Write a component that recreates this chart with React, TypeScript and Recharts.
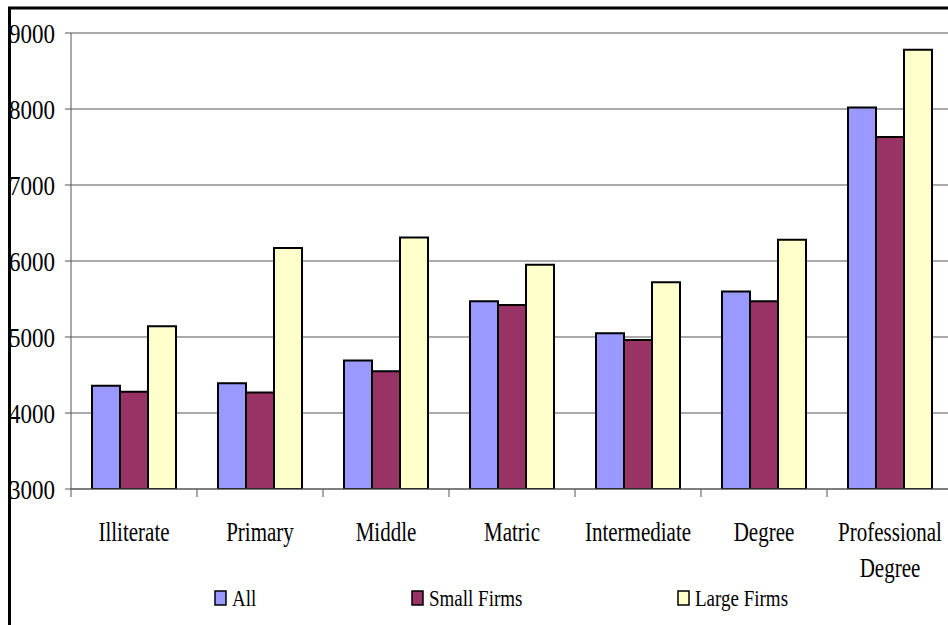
import React from 'react';
import { BarChart, Bar, XAxis, YAxis, CartesianGrid } from 'recharts';

const categories = ['Illiterate', 'Primary', 'Middle', 'Matric', 'Intermediate', 'Degree', 'Professional Degree'];
const allValues = [4360, 4390, 4690, 5470, 5050, 5600, 8020];
const smallFirms = [4280, 4270, 4550, 5420, 4960, 5470, 7630];
const largeFirms = [5140, 6170, 6310, 5950, 5720, 6280, 8780];
const yTicks = [3000, 4000, 5000, 6000, 7000, 8000, 9000];

const seriesNames = ['All', 'Small Firms', 'Large Firms'];
const COLORS = ['#9999FF', '#993366', '#FFFFCC'];

const FONT = '"Liberation Serif", "Times New Roman", serif';

const data = categories.map((name, i) => ({
  name,
  all: allValues[i],
  small: smallFirms[i],
  large: largeFirms[i],
}));

const CategoryTick = (props: any) => {
  const { x, y, payload } = props;
  const half = payload && payload.offset ? payload.offset : 63;
  const lines = String(payload.value).split(' ');
  return (
    <g>
      <line x1={x - half} x2={x - half} y1={y} y2={y + 8} stroke="#555" />
      <text
        transform={`translate(${x},${y + 52}) scale(1,1.3)`}
        textAnchor="middle"
        fontSize={21}
        fontFamily={FONT}
        fill="#000"
      >
        {lines.map((l, i) => (
          <tspan key={i} x={0} dy={i === 0 ? 0 : 28}>{l}</tspan>
        ))}
      </text>
    </g>
  );
};

const ValueTick = (props: any) => {
  const { x, y, payload } = props;
  return (
    <text
      transform={`translate(${x},${y + 10}) scale(1,1.2)`}
      textAnchor="end"
      fontSize={23}
      fontFamily={FONT}
      fill="#000"
    >
      {payload.value}
    </text>
  );
};

// legend marker x positions
const legendX = [215, 412, 678];

export default function App() {
  return (
    <div style={{ position: 'absolute', left: 0, top: 0, width: 948, height: 625, overflow: 'hidden', background: '#fff' }}>
      <BarChart
        width={960}
        height={625}
        data={data}
        margin={{ top: 33, right: 7, left: 0, bottom: 36 }}
        barGap={0}
        barCategoryGap={21}
      >
        <CartesianGrid vertical={false} stroke="#555" />
        <XAxis
          dataKey="name"
          height={100}
          interval={0}
          tickSize={0}
          tickMargin={0}
          tickLine={false}
          axisLine={{ stroke: '#555' }}
          tick={<CategoryTick />}
        />
        <YAxis
          width={71}
          domain={[3000, 9000]}
          ticks={yTicks}
          allowDataOverflow
          tickSize={6}
          tickMargin={10}
          axisLine={{ stroke: '#555' }}
          tickLine={{ stroke: '#555' }}
          tick={<ValueTick />}
        />
        <Bar dataKey="all" name={seriesNames[0]} fill={COLORS[0]} stroke="#000" strokeWidth={2} isAnimationActive={false} />
        <Bar dataKey="small" name={seriesNames[1]} fill={COLORS[1]} stroke="#000" strokeWidth={2} isAnimationActive={false} />
        <Bar dataKey="large" name={seriesNames[2]} fill={COLORS[2]} stroke="#000" strokeWidth={2} isAnimationActive={false} />
      </BarChart>

      <svg width={948} height={625} style={{ position: 'absolute', left: 0, top: 0, pointerEvents: 'none' }}>
        {seriesNames.map((name, i) => (
          <g key={name}>
            <rect x={legendX[i]} y={591} width={11} height={14} fill={COLORS[i]} stroke="#000" strokeWidth={1.5} />
            <text
              transform={`translate(${legendX[i] + 17},606) scale(1,1.25)`}
              fontSize={19}
              fontFamily={FONT}
              fill="#000"
            >
              {name}
            </text>
          </g>
        ))}
        <line x1={9.5} y1={8} x2={9.5} y2={625} stroke="#000" strokeWidth={3} />
        <line x1={8} y1={8} x2={948} y2={8} stroke="#000" strokeWidth={3} />
      </svg>
    </div>
  );
}
